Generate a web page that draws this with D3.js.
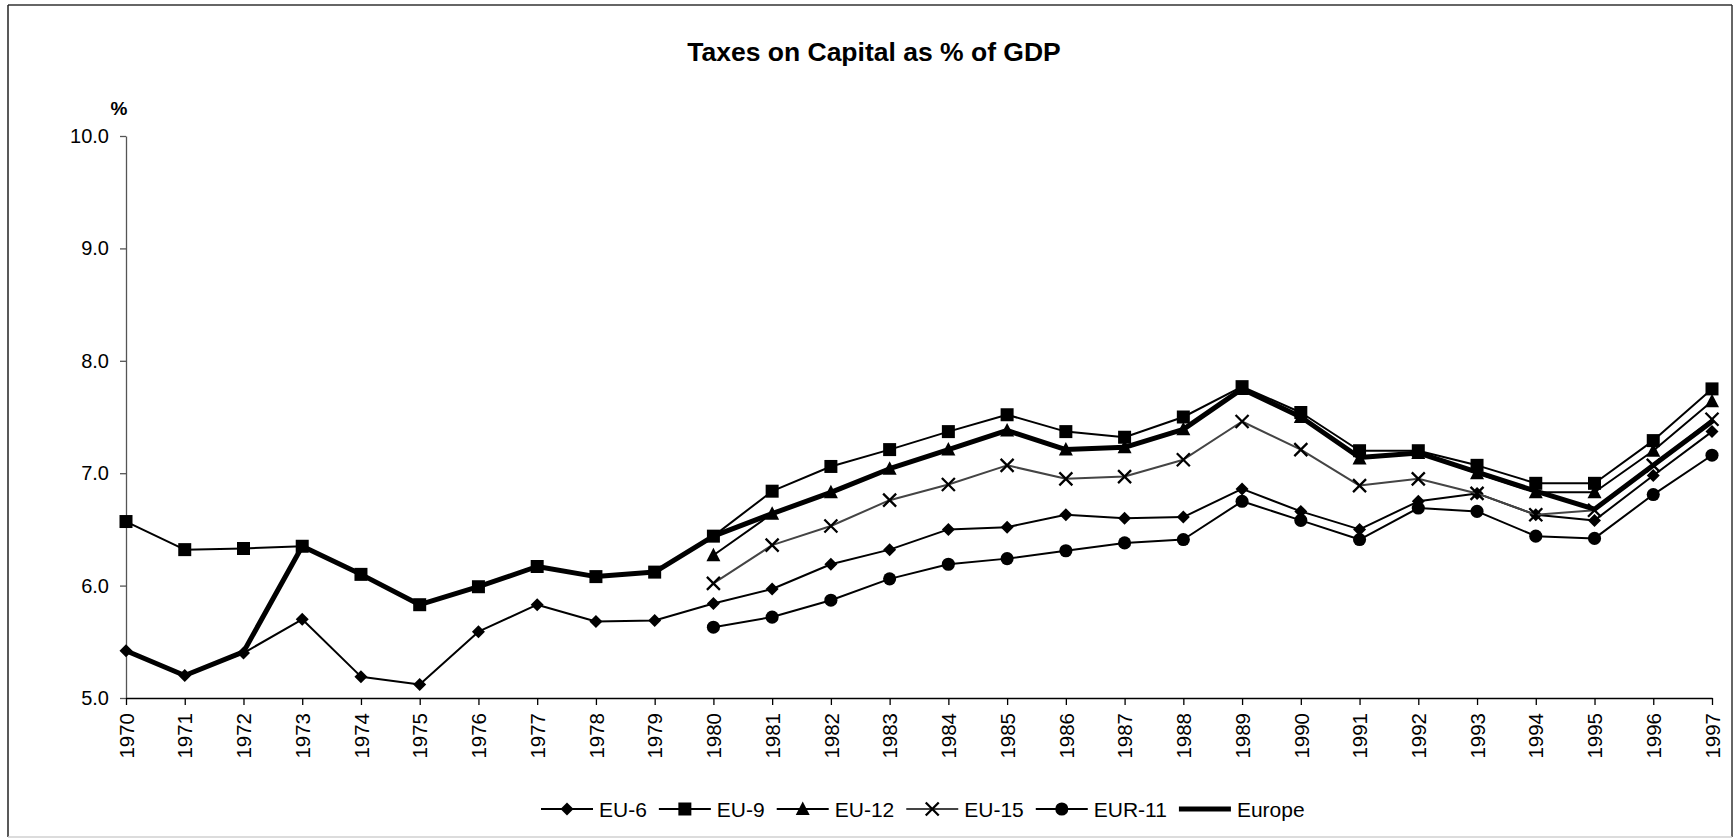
<!DOCTYPE html>
<html>
<head>
<meta charset="utf-8">
<script src="https://cdn.jsdelivr.net/npm/d3@7"></script>
<style>
  html, body { margin: 0; padding: 0; background: #fff; }
  svg { display: block; }
  text { font-family: "Liberation Sans", Arial, sans-serif; fill: #000; }
</style>
</head>
<body>
<svg id="chart" width="1733" height="838"></svg>
<script>
const years = ["1970","1971","1972","1973","1974","1975","1976","1977","1978","1979",
  "1980","1981","1982","1983","1984","1985","1986","1987","1988","1989",
  "1990","1991","1992","1993","1994","1995","1996","1997"];
const yTicks = [5, 6, 7, 8, 9, 10];
const seriesNames = ["EU-6", "EU-9", "EU-12", "EU-15", "EUR-11", "Europe"];
const eu6 = [5.42,5.20,5.40,5.70,5.19,5.12,5.59,5.83,5.68,5.69,
  5.84,5.97,6.19,6.32,6.50,6.52,6.63,6.60,6.61,6.86,
  6.66,6.50,6.75,6.82,6.63,6.58,6.98,7.37];
const eu9 = [6.57,6.32,6.33,6.35,6.10,5.83,5.99,6.17,6.08,6.12,
  6.44,6.84,7.06,7.21,7.37,7.52,7.37,7.32,7.50,7.77,
  7.54,7.20,7.20,7.07,6.91,6.91,7.29,7.75];
const eu12 = [null,null,null,null,null,null,null,null,null,null,
  6.27,6.64,6.83,7.04,7.21,7.38,7.21,7.23,7.39,7.75,
  7.50,7.13,7.18,7.00,6.83,6.83,7.20,7.64];
const eu15 = [null,null,null,null,null,null,null,null,null,null,
  6.02,6.36,6.53,6.76,6.90,7.07,6.95,6.97,7.12,7.46,
  7.21,6.89,6.95,6.82,6.63,6.67,7.07,7.48];
const eur11 = [null,null,null,null,null,null,null,null,null,null,
  5.63,5.72,5.87,6.06,6.19,6.24,6.31,6.38,6.41,6.75,
  6.58,6.41,6.69,6.66,6.44,6.42,6.81,7.16];
const europe = [5.42,5.20,5.41,6.35,6.10,5.83,5.99,6.17,6.08,6.12,
  6.44,6.64,6.83,7.04,7.21,7.38,7.21,7.23,7.39,7.75,
  7.50,7.14,7.18,7.01,6.84,6.68,7.07,7.46];

const svg = d3.select("#chart");
const W = 1733, H = 838;

// frame
svg.append("line").attr("x1", 8).attr("y1", 5).attr("x2", 1732).attr("y2", 5).attr("stroke", "#333").attr("stroke-width", 1.5);
svg.append("line").attr("x1", 8).attr("y1", 5).attr("x2", 8).attr("y2", 837).attr("stroke", "#222").attr("stroke-width", 1.5);
svg.append("line").attr("x1", 1732).attr("y1", 5).attr("x2", 1732).attr("y2", 837).attr("stroke", "#333").attr("stroke-width", 1.5);
svg.append("line").attr("x1", 8).attr("y1", 837).attr("x2", 1732).attr("y2", 837).attr("stroke", "#d0d0d0").attr("stroke-width", 1.5);

const x = d3.scalePoint().domain(years).range([126, 1712]);
const y = d3.scaleLinear().domain([5, 10]).range([698, 136]);

// title
svg.append("text").attr("x", 874).attr("y", 61).attr("text-anchor", "middle")
  .style("font-size", "26.5px").style("font-weight", "bold").text("Taxes on Capital as % of GDP");
svg.append("text").attr("x", 119).attr("y", 115).attr("text-anchor", "middle")
  .style("font-size", "19px").style("font-weight", "bold").text("%");

// y axis
const yAxis = svg.append("g").attr("transform", "translate(126,0)")
  .call(d3.axisLeft(y).tickValues(yTicks).tickFormat(d3.format(".1f")).tickSize(6).tickSizeOuter(0).tickPadding(11));
yAxis.select(".domain").attr("stroke", "#555").attr("stroke-width", 1.3);
yAxis.selectAll(".tick line").attr("stroke", "#555").attr("stroke-width", 1.3);
yAxis.selectAll(".tick text").style("font-size", "20px").style("font-family", "'Liberation Sans', Arial, sans-serif").attr("fill", "#000");

// x axis
const xAxis = svg.append("g").attr("transform", "translate(0,698)")
  .call(d3.axisBottom(x).tickSize(7).tickSizeOuter(0));
xAxis.select(".domain").attr("stroke", "#000").attr("stroke-width", 1.5);
xAxis.selectAll(".tick line").attr("stroke", "#000").attr("stroke-width", 1.3);
xAxis.selectAll(".tick text")
  .style("font-size", "20.5px").style("font-family", "'Liberation Sans', Arial, sans-serif").attr("fill", "#000")
  .attr("transform", "rotate(-90)").attr("text-anchor", "end")
  .attr("x", -15).attr("y", 0).attr("dy", "0.35em");

// marker shapes
const r = 6.5;
const shapes = {
  diamond: `M0,${-r}L${r},0L0,${r}L${-r},0Z`,
  square: d3.symbol(d3.symbolSquare, 169)(),
  triangle: `M0,${-r - 1}L${r + 0.5},${r - 0.5}L${-r - 0.5},${r - 0.5}Z`,
  circle: d3.symbol(d3.symbolCircle, 135)(),
  cross: `M${-r},${-r}L${r},${r}M${-r},${r}L${r},${-r}`
};

const series = [
  { name: seriesNames[0], values: eu6, color: "#000", width: 2, marker: "diamond" },
  { name: seriesNames[1], values: eu9, color: "#000", width: 2, marker: "square" },
  { name: seriesNames[2], values: eu12, color: "#000", width: 2, marker: "triangle" },
  { name: seriesNames[3], values: eu15, color: "#444", width: 2, marker: "cross" },
  { name: seriesNames[4], values: eur11, color: "#000", width: 2, marker: "circle" },
  { name: seriesNames[5], values: europe, color: "#000", width: 5, marker: null }
];

const line = d3.line()
  .defined(d => d.v !== null)
  .x(d => x(d.year))
  .y(d => y(d.v));

function drawMarker(g, type, cx, cy) {
  const p = g.append("path").attr("d", shapes[type]).attr("transform", `translate(${cx},${cy})`);
  if (type === "cross") p.attr("fill", "none").attr("stroke", "#000").attr("stroke-width", 2.3);
  else p.attr("fill", "#000").attr("stroke", "none");
}

const plot = svg.append("g");
series.forEach(s => {
  const pts = years.map((yr, i) => ({ year: yr, v: s.values[i] }));
  plot.append("path").datum(pts).attr("d", line)
    .attr("fill", "none").attr("stroke", s.color).attr("stroke-width", s.width)
    .attr("stroke-linejoin", "round").attr("stroke-linecap", "round");
  if (s.marker) {
    const mg = plot.append("g");
    pts.filter(d => d.v !== null).forEach(d => drawMarker(mg, s.marker, x(d.year), y(d.v)));
  }
});

// legend
const leg = svg.append("g");
let lx = 541;
const ly = 809;
series.forEach(s => {
  leg.append("line").attr("x1", lx).attr("x2", lx + 52).attr("y1", ly).attr("y2", ly)
    .attr("stroke", s.color).attr("stroke-width", s.width);
  if (s.marker) drawMarker(leg, s.marker, lx + 26, ly);
  const t = leg.append("text").attr("x", lx + 58).attr("y", ly + 8).style("font-size", "21px").text(s.name);
  const w = t.node().getComputedTextLength();
  lx = lx + 58 + w + 12;
});
</script>
</body>
</html>
